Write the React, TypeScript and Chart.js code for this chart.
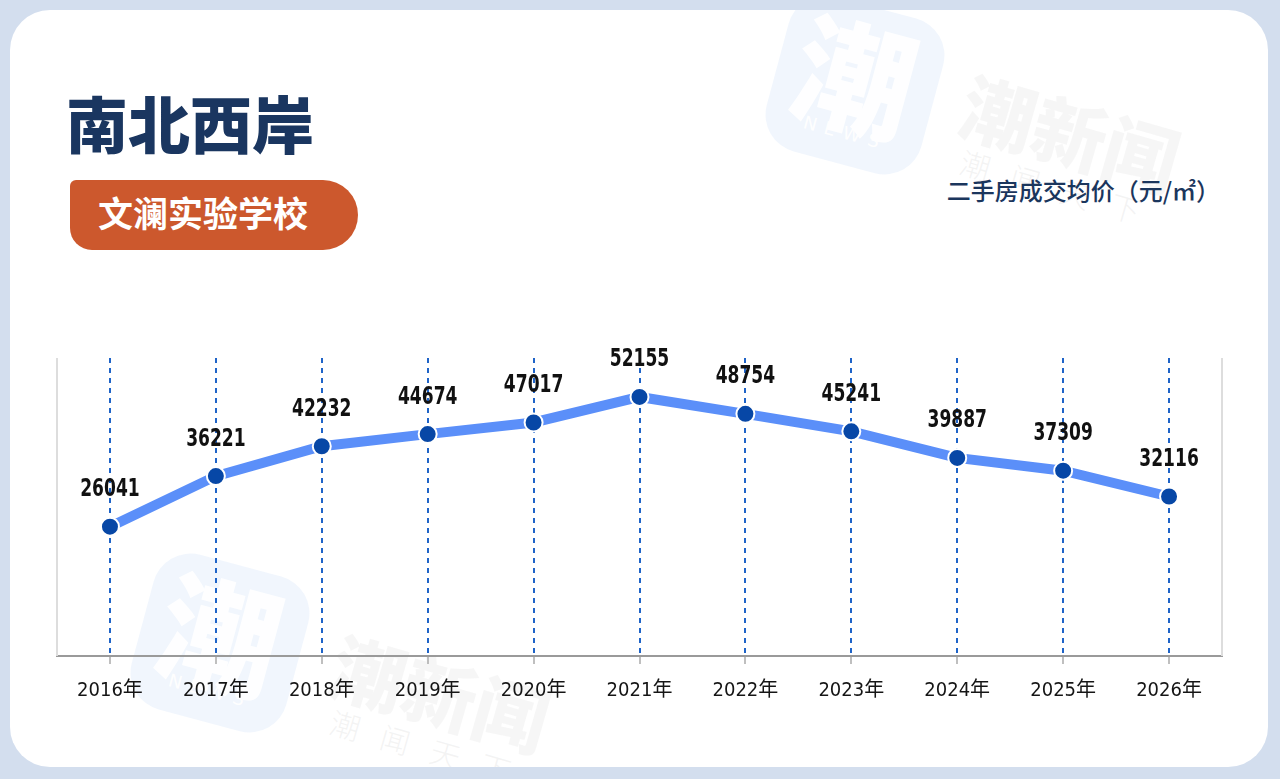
import React, { useEffect, useRef } from "react";
import { Chart, registerables } from "chart.js";

Chart.register(...registerables);

const years = ["2016年", "2017年", "2018年", "2019年", "2020年", "2021年", "2022年", "2023年", "2024年", "2025年", "2026年"];
const prices = [26041, 36221, 42232, 44674, 47017, 52155, 48754, 45241, 39887, 37309, 32116];
const yMin = 0;
const yMax = 60000;

const title = "南北西岸";
const badge = "文澜实验学校";
const unitLabel = "二手房成交均价（元/㎡）";

const NARROW = '"DejaVu Sans Condensed", "Noto Sans CJK SC", sans-serif';
const CJK = '"Noto Sans CJK SC", "Noto Sans", sans-serif';

const valueLabels = {
  id: "valueLabels",
  afterDatasetsDraw(chart: any) {
    const { ctx } = chart;
    const meta = chart.getDatasetMeta(0);
    const data = chart.data.datasets[0].data as number[];
    const sx = 0.76;
    ctx.save();
    ctx.font = `bold 25px ${NARROW}`;
    ctx.fillStyle = "#111111";
    ctx.textAlign = "center";
    ctx.textBaseline = "middle";
    ctx.scale(sx, 1);
    meta.data.forEach((pt: any, i: number) => {
      ctx.fillText(String(data[i]), pt.x / sx, pt.y - 37);
    });
    ctx.restore();
  },
};

const sideLines = {
  id: "sideLines",
  beforeDatasetsDraw(chart: any) {
    const { ctx, chartArea } = chart;
    ctx.save();
    ctx.strokeStyle = "#dddddd";
    ctx.lineWidth = 2;
    ctx.beginPath();
    ctx.moveTo(chartArea.left, chartArea.top);
    ctx.lineTo(chartArea.left, chartArea.bottom);
    ctx.moveTo(chartArea.right, chartArea.top);
    ctx.lineTo(chartArea.right, chartArea.bottom);
    ctx.stroke();
    ctx.restore();
  },
};

function Watermark({ x, y, textX, textY }: { x: number; y: number; textX: number; textY: number }) {
  return (
    <>
      <div
        style={{
          position: "absolute",
          left: x,
          top: y,
          width: 160,
          height: 160,
          borderRadius: 38,
          background: "rgba(214,228,250,0.35)",
          transform: "rotate(15deg)",
          overflow: "hidden",
        }}
      >
        <div
          style={{
            position: "absolute",
            left: 18,
            top: 2,
            fontFamily: CJK,
            fontWeight: 900,
            fontSize: 120,
            lineHeight: "130px",
            color: "rgba(255,255,255,0.9)",
          }}
        >
          潮
        </div>
        <div
          style={{
            position: "absolute",
            left: 40,
            top: 118,
            fontFamily: "DejaVu Sans, sans-serif",
            fontSize: 18,
            letterSpacing: 8,
            color: "rgba(255,255,255,0.95)",
          }}
        >
          NEWS
        </div>
      </div>
      <div
        style={{
          position: "absolute",
          left: textX,
          top: textY,
          transform: "rotate(16deg)",
          transformOrigin: "left top",
          fontFamily: CJK,
          fontWeight: 900,
          fontSize: 74,
          lineHeight: "80px",
          color: "rgba(225,225,225,0.3)",
          whiteSpace: "nowrap",
        }}
      >
        潮新闻
        <div
          style={{
            fontSize: 30,
            fontWeight: 300,
            letterSpacing: 22,
            lineHeight: "36px",
            marginLeft: 14,
            color: "rgba(215,215,215,0.3)",
          }}
        >
          潮闻天下
        </div>
      </div>
    </>
  );
}

export default function App() {
  const canvasRef = useRef<HTMLCanvasElement | null>(null);

  useEffect(() => {
    if (!canvasRef.current) return;
    const chart = new Chart(canvasRef.current, {
      type: "line",
      data: {
        labels: years,
        datasets: [
          {
            data: prices,
            borderColor: "#5b8ff9",
            borderWidth: 10,
            pointRadius: 9,
            pointBackgroundColor: "#0747a6",
            pointBorderColor: "#ffffff",
            pointBorderWidth: 2,
            tension: 0,
            clip: false as any,
          },
        ],
      },
      options: {
        responsive: false,
        animation: false,
        layout: { padding: { left: 57, right: 58, top: 358, bottom: 0 } },
        plugins: { legend: { display: false }, tooltip: { enabled: false } },
        scales: {
          x: {
            offset: true,
            grid: {
              offset: false,
              color: "#1f64c8",
              lineWidth: 2,
              tickColor: "#aaaaaa",
              tickLength: 8,
              tickWidth: 1.5,
            } as any,
            border: { display: true, color: "#9a9a9a", width: 2, dash: [5, 5] },
            ticks: {
              color: "#151515",
              font: { family: NARROW, size: 20 },
              padding: 15,
              maxRotation: 0,
              autoSkip: false,
            },
            afterFit: (s: any) => {
              s.height = 123;
            },
          } as any,
          y: { display: false, min: yMin, max: yMax },
        },
      },
      plugins: [sideLines, valueLabels],
    });
    return () => chart.destroy();
  }, []);

  return (
    <div
      style={{
        position: "absolute",
        left: 0,
        top: 0,
        width: 1280,
        height: 779,
        background: "#d3deee",
        overflow: "hidden",
      }}
    >
      <div
        style={{
          position: "absolute",
          left: 10,
          top: 10,
          width: 1258,
          height: 757,
          borderRadius: 40,
          background: "#ffffff",
          overflow: "hidden",
        }}
      >
        <div style={{ position: "absolute", left: -10, top: -10, width: 1280, height: 779 }}>
          <Watermark x={775} y={5} textX={975} textY={62} />
          <Watermark x={140} y={563} textX={345} textY={622} />
        </div>
      </div>
      <div
        style={{
          position: "absolute",
          left: 66,
          top: 91,
          fontFamily: CJK,
          fontWeight: 900,
          fontSize: 62,
          lineHeight: "62px",
          color: "#1a3660",
          whiteSpace: "nowrap",
        }}
      >
        {title}
      </div>
      <div
        style={{
          position: "absolute",
          left: 70,
          top: 180,
          width: 288,
          height: 70,
          background: "#cc582d",
          borderRadius: "6px 35px 35px 22px",
          boxSizing: "border-box",
          paddingLeft: 28,
          fontFamily: CJK,
          fontWeight: 700,
          fontSize: 35,
          lineHeight: "64px",
          color: "#ffffff",
          whiteSpace: "nowrap",
        }}
      >
        {badge}
      </div>
      <div
        style={{
          position: "absolute",
          right: 60,
          top: 178,
          fontFamily: CJK,
          fontWeight: 500,
          fontSize: 24,
          lineHeight: "24px",
          color: "#1b365d",
          whiteSpace: "nowrap",
        }}
      >
        {unitLabel}
      </div>
      <canvas
        ref={canvasRef}
        width={1280}
        height={779}
        style={{ position: "absolute", left: 0, top: 0, width: 1280, height: 779, pointerEvents: "none" }}
      />
    </div>
  );
}
